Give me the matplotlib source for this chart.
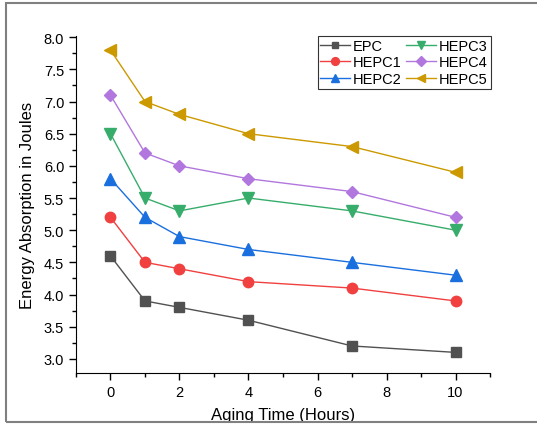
import matplotlib.pyplot as plt
from matplotlib.patches import Rectangle
from matplotlib.ticker import MultipleLocator

plt.rcParams['font.family'] = ['Liberation Sans', 'DejaVu Sans']

hours = [0, 1, 2, 4, 7, 10]
epc = [4.6, 3.9, 3.8, 3.6, 3.2, 3.1]
hepc1 = [5.2, 4.5, 4.4, 4.2, 4.1, 3.9]
hepc2 = [5.8, 5.2, 4.9, 4.7, 4.5, 4.3]
hepc3 = [6.5, 5.5, 5.3, 5.5, 5.3, 5.0]
hepc4 = [7.1, 6.2, 6.0, 5.8, 5.6, 5.2]
hepc5 = [7.8, 7.0, 6.8, 6.5, 6.3, 5.9]

names = ["EPC", "HEPC1", "HEPC2", "HEPC3", "HEPC4", "HEPC5"]
series = [epc, hepc1, hepc2, hepc3, hepc4, hepc5]
colors = ["#515151", "#F14040", "#1A6FDF", "#37AD6B", "#B177DE", "#CC9900"]
markers = ["s", "o", "^", "v", "D", "<"]
msizes = [6.5, 7.5, 8, 8, 6.5, 8]

fig = plt.figure(figsize=(5.37, 4.31), dpi=100)
ax = fig.add_axes([0.1415, 0.1323, 0.771, 0.782])

for name, vals, c, m, ms in zip(names, series, colors, markers, msizes):
    ax.plot(hours, vals, color=c, marker=m, markersize=ms, lw=1, label=name)

ax.set_xlim(-1, 11)
ax.set_ylim(2.78, 8.02)
ax.xaxis.set_major_locator(MultipleLocator(2))
ax.xaxis.set_minor_locator(MultipleLocator(1))
ax.yaxis.set_major_locator(MultipleLocator(0.5))
ax.yaxis.set_minor_locator(MultipleLocator(0.25))
ax.yaxis.set_major_formatter(plt.FormatStrFormatter('%.1f'))
ax.tick_params(which='both', direction='out', labelsize=10.5, width=1)
ax.tick_params(which='major', length=5)
ax.tick_params(which='minor', length=3)
ax.spines['top'].set_visible(False)
ax.spines['right'].set_visible(False)
ax.set_xlabel("Aging Time (Hours)", fontsize=12, labelpad=6)
ax.set_ylabel("Energy Absorption in Joules", fontsize=12, labelpad=6)

leg = ax.legend(ncol=2, loc='upper right', bbox_to_anchor=(1.002, 1.0), borderaxespad=0,
                fontsize=10.5, frameon=True, fancybox=False, edgecolor='black',
                handlelength=2.0, columnspacing=0.3, handletextpad=0.25,
                labelspacing=0.18, borderpad=0.2, markerscale=0.75)
leg.get_frame().set_linewidth(0.8)

fig.patches.append(Rectangle((6 / 537, 8 / 431), 1.2, 419 / 431, transform=fig.transFigure,
                             fill=False, edgecolor='#808080', lw=1.5))

fig.savefig("out.png", dpi=100)
